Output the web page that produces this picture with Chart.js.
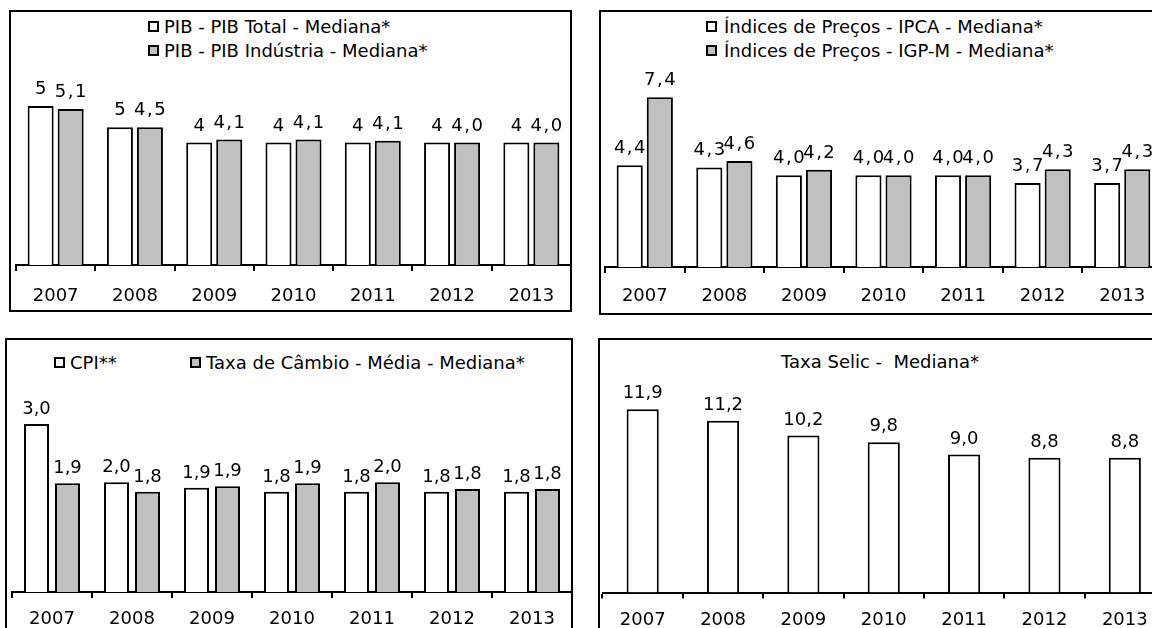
<!DOCTYPE html>
<html><head><meta charset="utf-8">
<script src="https://cdn.jsdelivr.net/npm/chart.js@4.4.0/dist/chart.umd.min.js"></script>
<style>
html,body{margin:0;padding:0;background:#fff;width:1152px;height:628px;overflow:hidden;position:relative;font-family:'DejaVu Sans',sans-serif;}
.panel{position:absolute;border:2px solid #000;box-sizing:border-box;}
canvas{position:absolute;}
.lg{position:absolute;font-size:18px;line-height:24px;white-space:pre;color:#000;}
.box{position:absolute;box-sizing:border-box;border:2px solid #000;width:11px;height:11px;background:#fff;}
.box.g{background:#c0c0c0;}
</style></head><body>
<div class="panel" style="left:9px;top:10px;width:563px;height:302px"></div>
<div class="panel" style="left:599px;top:10px;width:570px;height:305px"></div>
<div class="panel" style="left:5px;top:338px;width:568px;height:300px"></div>
<div class="panel" style="left:598px;top:338px;width:570px;height:300px"></div>

<div class="box" style="left:148px;top:21px"></div><div class="lg" style="left:164px;top:15px">PIB - PIB Total - Mediana*</div>
<div class="box g" style="left:148px;top:45px"></div><div class="lg" style="left:164px;top:39px">PIB - PIB Indústria - Mediana*</div>

<div class="box" style="left:706px;top:21px"></div><div class="lg" style="left:724px;top:15px">Índices de Preços - IPCA - Mediana*</div>
<div class="box g" style="left:706px;top:45px"></div><div class="lg" style="left:724px;top:39px">Índices de Preços - IGP-M - Mediana*</div>

<div class="box" style="left:54px;top:357px"></div><div class="lg" style="left:70px;top:351px">CPI**</div>
<div class="box g" style="left:190px;top:357px"></div><div class="lg" style="left:206px;top:351px">Taxa de Câmbio - Média - Mediana*</div>

<div class="lg" style="left:781px;top:350px">Taxa Selic -  Mediana*</div>

<canvas id="c1" width="559" height="241" style="left:14px;top:70px"></canvas>
<canvas id="c2" width="561" height="254" style="left:603px;top:60px"></canvas>
<canvas id="c3" width="564" height="238" style="left:10px;top:390px"></canvas>
<canvas id="c4" width="567" height="248" style="left:600px;top:380px"></canvas>

<script>
const years = ['2007','2008','2009','2010','2011','2012','2013'];
const pibTotal     = [5.2, 4.5, 4.0, 4.0, 4.0, 4.0, 4.0];
const pibIndustria = [5.1, 4.5, 4.1, 4.1, 4.06, 4.0, 4.0];
const ipca         = [4.44, 4.34, 4.0, 4.0, 4.0, 3.66, 3.66];
const igpm         = [7.4, 4.62, 4.24, 4.0, 4.0, 4.26, 4.26];
const cpi          = [3.0, 1.96, 1.86, 1.79, 1.79, 1.79, 1.79];
const cambio       = [1.94, 1.79, 1.89, 1.94, 1.96, 1.84, 1.84];
const selic        = [11.9, 11.16, 10.2, 9.76, 8.96, 8.76, 8.76];

Chart.defaults.font.family = "'DejaVu Sans', sans-serif";
Chart.defaults.font.size = 18;
Chart.defaults.color = '#000';

const valueLabels = {
  id: 'valueLabels',
  afterDatasetsDraw(chart, args, opts) {
    const ctx = chart.ctx;
    ctx.save();
    ctx.font = "18px 'DejaVu Sans', sans-serif";
    if ('letterSpacing' in ctx) ctx.letterSpacing = (opts.spacing || 0) + 'px';
    ctx.fillStyle = '#000';
    ctx.textAlign = 'center';
    ctx.textBaseline = 'alphabetic';
    chart.data.datasets.forEach((ds, i) => {
      const meta = chart.getDatasetMeta(i);
      meta.data.forEach((el, j) => {
        const txt = ds.data[j].toFixed(ds.decimals).replace('.', ',');
        ctx.fillText(txt, el.x + (opts.spacing || 0) / 2, el.y - opts.gap);
      });
    });
    ctx.restore();
  }
};

function makeChart(id, datasets, o) {
  new Chart(document.getElementById(id), {
    type: 'bar',
    data: { labels: years, datasets: datasets.map(d => ({
      data: d.data, decimals: d.decimals,
      backgroundColor: d.fill, borderColor: '#000', borderWidth: 2,
      categoryPercentage: o.cat, barPercentage: o.bar
    })) },
    options: {
      responsive: false, animation: false,
      layout: { padding: { left: o.padL, right: 2, top: 0, bottom: 0 } },
      plugins: { legend: { display: false }, tooltip: { enabled: false }, valueLabels: { gap: o.gap, spacing: o.spacing } },
      scales: {
        y: { display: false, min: 0, max: o.max },
        x: {
          afterFit: (s) => { s.height = o.axisH; },
          grid: { drawOnChartArea: false, drawTicks: true, tickLength: 6, color: '#000', lineWidth: 2, offset: true },
          border: { display: true, color: '#000', width: 2 },
          ticks: { padding: o.tickPad, autoSkip: false, maxRotation: 0, color: '#000', font: { size: 18 } }
        }
      }
    },
    plugins: [valueLabels]
  });
}

makeChart('c1', [
  { data: pibTotal, decimals: 0, fill: '#ffffff' },
  { data: pibIndustria, decimals: 1, fill: '#c0c0c0' }
], { cat: 0.757, bar: 0.867, max: 195 / 30.6, axisH: 46, tickPad: 15, gap: 12, padL: 2, spacing: 1.5 });

makeChart('c2', [
  { data: ipca, decimals: 1, fill: '#ffffff' },
  { data: igpm, decimals: 1, fill: '#c0c0c0' }
], { cat: 0.757, bar: 0.867, max: 207 / 22.93, axisH: 47, tickPad: 13, gap: 12, padL: 2, spacing: 1.5 });

makeChart('c3', [
  { data: cpi, decimals: 1, fill: '#ffffff' },
  { data: cambio, decimals: 1, fill: '#c0c0c0' }
], { cat: 0.775, bar: 0.806, max: 202 / 56, axisH: 36, tickPad: 11, gap: 10, padL: 2, spacing: 0 });

makeChart('c4', [
  { data: selic, decimals: 1, fill: '#ffffff' }
], { cat: 0.8, bar: 0.5, max: 212.5 / 15.39, axisH: 35.5, tickPad: 11, gap: 11, padL: 2.5, spacing: 0 });
</script>
</body></html>
